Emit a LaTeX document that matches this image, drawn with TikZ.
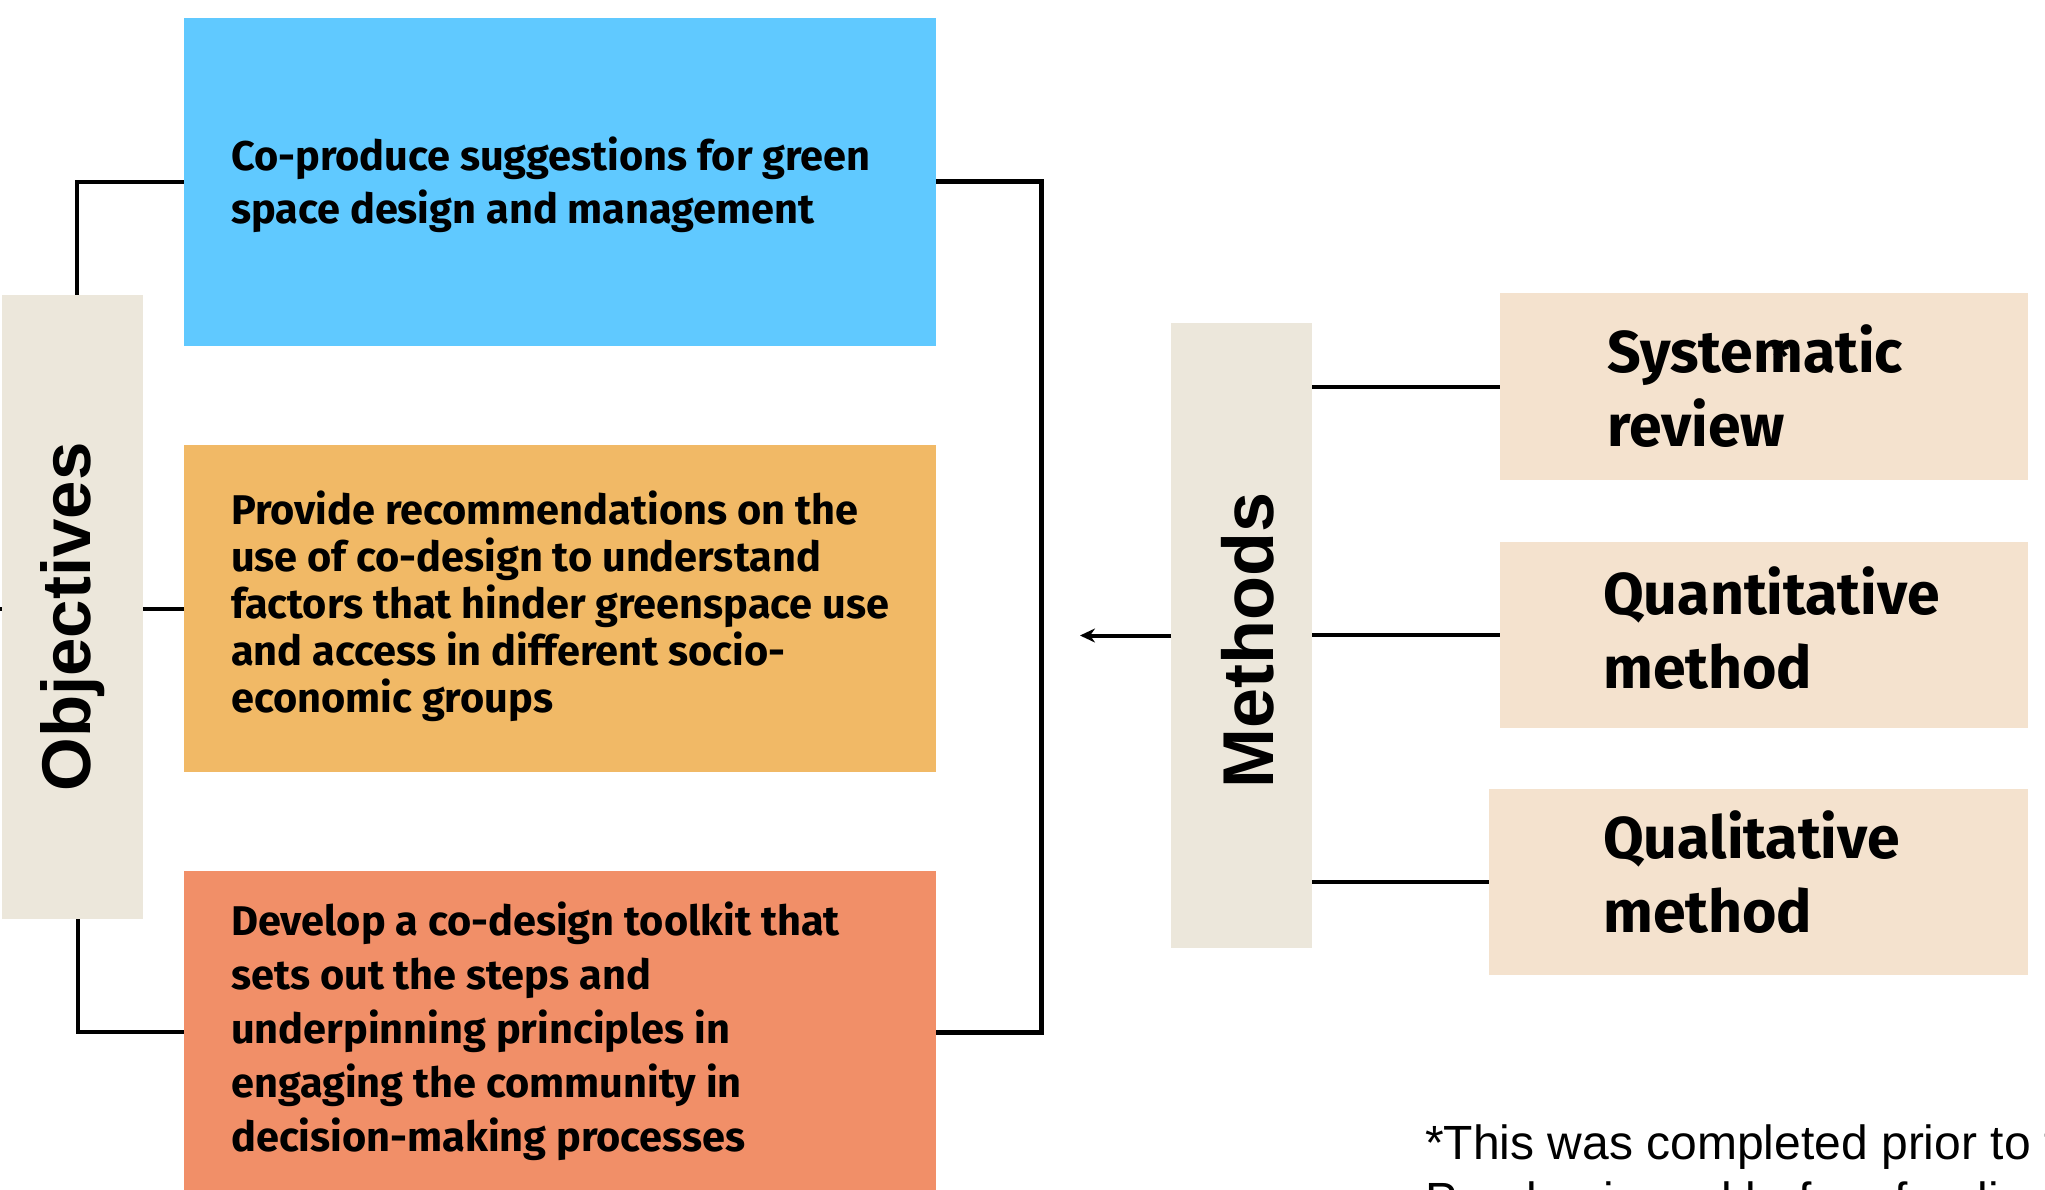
\documentclass[tikz,border=0pt]{standalone}
\usepackage{fontspec}
\setmainfont{Liberation Sans}
\newfontfamily\boxfont{Fira Sans}
\usetikzlibrary{arrows.meta}
\definecolor{cblue}{HTML}{60C9FF}
\definecolor{corange}{HTML}{F1B966}
\definecolor{csalmon}{HTML}{F18F68}
\definecolor{cbeige}{HTML}{ECE7DB}
\definecolor{cmeth}{HTML}{F4E2CE}
\newcommand\mlines[1]{\vtop{\halign{##\hfil\cr#1\crcr}}}
\begin{document}
\begin{tikzpicture}[x=1pt,y=-1pt,
  box/.style={draw=none, inner sep=0pt, outer sep=0pt, anchor=north west},
  conn/.style={line width=4pt, black},
  objtxt/.style={inner sep=0pt, anchor=base west,
    font=\boxfont\bfseries\fontsize{41.5}{#1}\selectfont},
  methtxt/.style={inner sep=0pt, anchor=base west,
    font=\boxfont\bfseries\fontsize{59}{74}\selectfont},
  sidetxt/.style={rotate=90, inner sep=0pt, font=\bfseries\fontsize{#1}{#1}\selectfont}]
\useasboundingbox (0,0) rectangle (2045,1190);
\clip (0,0) rectangle (2045,1190);
% boxes
\node[box, fill=cblue,   minimum width=752, minimum height=328] (obj1) at (184,18) {};
\node[box, fill=corange, minimum width=752, minimum height=327] (obj2) at (184,445) {};
\node[box, fill=csalmon, minimum width=752, minimum height=322] (obj3) at (184,871) {};
\node[box, fill=cbeige,  minimum width=141, minimum height=624] (objectives) at (2,295) {};
\node[box, fill=cbeige,  minimum width=141, minimum height=625] (methods) at (1171,323) {};
\node[box, fill=cmeth,   minimum width=528, minimum height=187] (m1) at (1500,293) {};
\node[box, fill=cmeth,   minimum width=528, minimum height=186] (m2) at (1500,542) {};
\node[box, fill=cmeth,   minimum width=539, minimum height=186] (m3) at (1489,789) {};
% texts
\node[objtxt=53] (t1) at (231,171) {\mlines{Co-produce suggestions for green\cr space design and management}};
\node[objtxt=47] (t2) at (231,524) {\mlines{Provide recommendations on the\cr use of co-design to understand\cr factors that hinder greenspace use\cr and access in different socio-\cr economic groups}};
\node[objtxt=54] (t3) at (231,935) {\mlines{Develop a co-design toolkit that\cr sets out the steps and\cr underpinning principles in\cr engaging the community in\cr decision-making processes}};
\node[sidetxt=69] (objlabel) at ([yshift=-10pt]objectives.center) {Objectives};
\node[sidetxt=72] (methlabel) at ([xshift=6pt,yshift=-5pt]methods.center) {Methods};
\node[methtxt] (mt1) at (1607,372) {\mlines{Systematic\cr review}};
\node[methtxt] (mt2) at (1603,614) {\mlines{Quantitative\cr method}};
\node[methtxt] (mt3) at (1603,858) {\mlines{Qualitative\cr method}};
\node[inner sep=0pt, font=\bfseries\fontsize{44}{44}\selectfont] (ast) at (1781,356) {*};
\node[inner sep=0pt, anchor=base west, font=\fontsize{48}{57}\selectfont] (note) at (1425,1159)
  {\mlines{*This was completed prior to the study\cr Pandemic and before funding had been}};
% connectors
\coordinate (stub) at (0,608.5);
\draw[conn] (objectives.north west) ++(75,0) |- (obj1.west);
\draw[conn] (objectives.south west) ++(76,0) |- (obj3.west);
\draw[conn] (obj2.west -| objectives.east) -- (obj2.west);
\draw[conn] (stub) -- (objectives.west |- obj2.west);
\draw[conn, line width=5pt] (obj1.east) -- ++(105,0) |- (obj3.east);
\coordinate (tip) at (1080,635.5);
\draw[conn, -{Stealth[length=15pt,width=14pt]}] (methods.west) -- (tip);
\draw[conn] (methods.east |- m1.west) -- (m1.west);
\draw[conn] (methods.east |- m2.west) -- (m2.west);
\draw[conn] (methods.east |- m3.west) -- (m3.west);
\end{tikzpicture}
\end{document}
